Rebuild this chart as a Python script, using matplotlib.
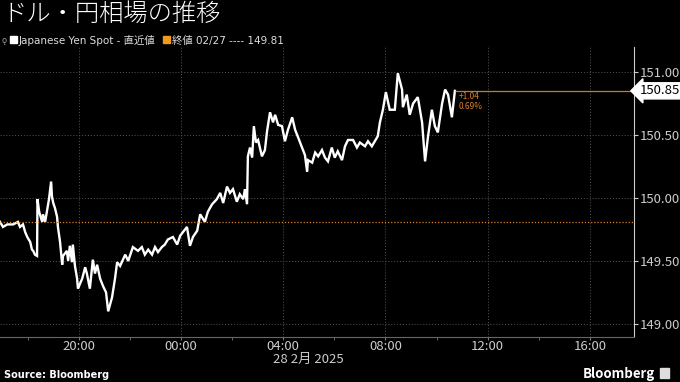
import pandas as pd
import matplotlib.pyplot as plt
import matplotlib.dates as mdates
from matplotlib.patches import Rectangle

plt.rcParams['font.family'] = ['Liberation Sans Narrow', 'Noto Sans CJK JP', 'DejaVu Sans']

# USD/JPY spot, 27 Feb 16:55 -> 28 Feb 10:43
times = [
    "02-27 16:55", "02-27 17:02", "02-27 17:12", "02-27 17:26", "02-27 17:37", "02-27 17:42",
    "02-27 17:49", "02-27 17:54", "02-27 17:59", "02-27 18:06", "02-27 18:10", "02-27 18:13",
    "02-27 18:17", "02-27 18:22", "02-27 18:23", "02-27 18:27", "02-27 18:34", "02-27 18:36",
    "02-27 18:41", "02-27 18:45", "02-27 18:50", "02-27 18:55", "02-27 18:57", "02-27 19:00",
    "02-27 19:04", "02-27 19:09", "02-27 19:11", "02-27 19:16", "02-27 19:21", "02-27 19:23",
    "02-27 19:32", "02-27 19:35", "02-27 19:39", "02-27 19:44", "02-27 19:46", "02-27 19:51",
    "02-27 19:56", "02-27 19:58", "02-27 20:08", "02-27 20:15", "02-27 20:19", "02-27 20:26",
    "02-27 20:33", "02-27 20:38", "02-27 20:43", "02-27 20:50", "02-27 20:57", "02-27 21:04",
    "02-27 21:09", "02-27 21:18", "02-27 21:25", "02-27 21:30", "02-27 21:37", "02-27 21:49",
    "02-27 21:56", "02-27 22:07", "02-27 22:19", "02-27 22:28", "02-27 22:35", "02-27 22:43",
    "02-27 22:52", "02-27 22:59", "02-27 23:06", "02-27 23:15", "02-27 23:22", "02-27 23:29",
    "02-27 23:41", "02-27 23:51", "02-27 23:58", "02-28 00:07", "02-28 00:14", "02-28 00:21",
    "02-28 00:28", "02-28 00:38", "02-28 00:45", "02-28 00:56", "02-28 01:03", "02-28 01:13",
    "02-28 01:24", "02-28 01:32", "02-28 01:39", "02-28 01:48", "02-28 01:55", "02-28 02:02",
    "02-28 02:11", "02-28 02:18", "02-28 02:26", "02-28 02:30", "02-28 02:35", "02-28 02:37",
    "02-28 02:42", "02-28 02:47", "02-28 02:51", "02-28 02:56", "02-28 03:01", "02-28 03:10",
    "02-28 03:17", "02-28 03:22", "02-28 03:29", "02-28 03:36", "02-28 03:41", "02-28 03:48",
    "02-28 03:57", "02-28 04:04", "02-28 04:11", "02-28 04:21", "02-28 04:28", "02-28 04:35",
    "02-28 04:44", "02-28 04:51", "02-28 04:56", "02-28 04:58", "02-28 05:08", "02-28 05:15",
    "02-28 05:22", "02-28 05:31", "02-28 05:38", "02-28 05:45", "02-28 05:54", "02-28 06:01",
    "02-28 06:08", "02-28 06:18", "02-28 06:25", "02-28 06:32", "02-28 06:44", "02-28 06:53",
    "02-28 07:00", "02-28 07:12", "02-28 07:19", "02-28 07:28", "02-28 07:35", "02-28 07:42",
    "02-28 07:47", "02-28 07:54", "02-28 08:01", "02-28 08:10", "02-28 08:22", "02-28 08:29",
    "02-28 08:39", "02-28 08:41", "02-28 08:50", "02-28 08:57", "02-28 09:05", "02-28 09:16",
    "02-28 09:26", "02-28 09:33", "02-28 09:40", "02-28 09:49", "02-28 09:56", "02-28 10:03",
    "02-28 10:13", "02-28 10:20", "02-28 10:27", "02-28 10:36", "02-28 10:43",
]
prices = [
    149.81, 149.77, 149.79, 149.79, 149.81, 149.77,
    149.79, 149.73, 149.69, 149.65, 149.59, 149.58,
    149.55, 149.54, 149.99, 149.89, 149.81, 149.87,
    149.81, 149.89, 149.99, 150.13, 150.01, 149.96,
    149.92, 149.85, 149.77, 149.65, 149.47, 149.54,
    149.58, 149.50, 149.62, 149.49, 149.63, 149.46,
    149.36, 149.28, 149.36, 149.45, 149.40, 149.28,
    149.51, 149.40, 149.47, 149.36, 149.30, 149.25,
    149.10, 149.21, 149.36, 149.49, 149.46, 149.55,
    149.50, 149.61, 149.58, 149.61, 149.55, 149.59,
    149.55, 149.61, 149.57, 149.61, 149.63, 149.67,
    149.69, 149.63, 149.70, 149.74, 149.77, 149.62,
    149.69, 149.74, 149.87, 149.81, 149.89, 149.95,
    149.99, 150.04, 149.96, 150.09, 150.04, 150.07,
    149.97, 150.03, 149.99, 150.07, 149.95, 150.33,
    150.40, 150.32, 150.57, 150.44, 150.46, 150.33,
    150.38, 150.53, 150.68, 150.60, 150.66, 150.58,
    150.57, 150.45, 150.54, 150.64, 150.54, 150.48,
    150.40, 150.34, 150.21, 150.30, 150.28, 150.36,
    150.33, 150.38, 150.32, 150.29, 150.40, 150.32,
    150.37, 150.30, 150.41, 150.46, 150.46, 150.40,
    150.44, 150.41, 150.45, 150.41, 150.45, 150.49,
    150.60, 150.70, 150.84, 150.70, 150.70, 150.99,
    150.86, 150.72, 150.82, 150.66, 150.75, 150.80,
    150.60, 150.29, 150.49, 150.70, 150.57, 150.52,
    150.75, 150.86, 150.82, 150.64, 150.85,
]
prev_close = 149.81
y_ticks = [149.00, 149.50, 150.00, 150.50, 151.00]

ts = pd.to_datetime(["2025-" + t for t in times])
last = prices[-1]
chg = last - prev_close

fig = plt.figure(figsize=(6.8, 3.82), dpi=100, facecolor="black")
ax = fig.add_axes([0.0, 0.118, 0.932, 0.759], facecolor="black")

ax.plot(ts, prices, color="white", lw=1.7, solid_joinstyle="miter")
ax.axhline(prev_close, color="#d9822b", lw=0.9, ls=(0, (1, 1.5)))
ax.hlines(last, ts[-1], pd.Timestamp("2025-02-28 17:43"), color="#c97a2a", lw=0.9)

ax.set_xlim(pd.Timestamp("2025-02-27 16:55"), pd.Timestamp("2025-02-28 17:43"))
ax.set_ylim(148.897, 151.198)

# axes styling
for s in ["left", "top"]:
    ax.spines[s].set_visible(False)
ax.spines["right"].set_color("#cccccc")
ax.spines["bottom"].set_color("#666666")
ax.yaxis.tick_right()
ax.set_yticks(y_ticks)
ax.set_yticklabels([f"{v:.2f}" for v in y_ticks])
ax.tick_params(axis="y", colors="#cccccc", labelsize=9.5, length=3, pad=1.5)
ax.xaxis.set_major_locator(mdates.HourLocator(byhour=range(0, 24, 4)))
ax.xaxis.set_minor_locator(mdates.HourLocator(byhour=range(0, 24, 2)))
ax.xaxis.set_major_formatter(mdates.DateFormatter("%H:%M"))
ax.tick_params(axis="x", which="both", colors="#777777", labelcolor="#cccccc",
               labelsize=9.5, length=2, pad=0.5)
ax.grid(True, which="major", color="#555555", ls=(0, (1, 2)), lw=0.7)

# end of line labels
ax.annotate(f"{last:.2f}", xy=(1.0, last), xycoords=("axes fraction", "data"),
            xytext=(4, 0), textcoords="offset points", va="center", ha="left",
            fontsize=9.5, color="black",
            bbox=dict(boxstyle="larrow,pad=0.12", fc="white", ec="white"),
            annotation_clip=False)
ax.annotate(f"+{chg:.2f}\n{chg / prev_close * 100:.2f}%", xy=(ts[-1], last),
            xytext=(3, -0.5), textcoords="offset points", va="top", ha="left",
            fontsize=6, color="#d9822b", linespacing=1.25)

# title, legend, footer
fig.text(0.003, 0.962, "ドル・円相場の推移", fontsize=17.5, color="white",
         family="Noto Sans CJK JP", weight="light", va="center")
fig.text(2 / 680, 0.893, "ǫ", fontsize=6, color="#999999", va="center",
         family="DejaVu Sans")
fig.add_artist(Rectangle((10 / 680, 1 - 43 / 382), 7 / 680, 7 / 382,
                         transform=fig.transFigure, color="white"))
fig.text(19 / 680, 0.893, "Japanese Yen Spot - 直近値", fontsize=7.5, color="#dddddd",
         va="center", family=["DejaVu Sans", "Noto Sans CJK JP"])
fig.add_artist(Rectangle((163 / 680, 1 - 43 / 382), 7 / 680, 7 / 382,
                         transform=fig.transFigure, color="#f29a1e"))
fig.text(172 / 680, 0.893, "終値 02/27 ---- 149.81", fontsize=7.5, color="#dddddd",
         va="center", family=["DejaVu Sans", "Noto Sans CJK JP"])

fig.text(308 / 680, 1 - 359 / 382, "28 2月 2025", fontsize=9.5, color="#cccccc",
         ha="center", va="center")
fig.text(0.006, 0.018, "Source: Bloomberg", fontsize=7, color="white", weight="bold",
         family="DejaVu Sans", va="center")
fig.text(0.963, 0.022, "Bloomberg", fontsize=9.5, color="white", weight="bold",
         ha="right", va="center")
fig.add_artist(Rectangle((660 / 680, 1 - 378 / 382), 9 / 680, 10 / 382,
                         transform=fig.transFigure, color="#dddddd"))

fig.savefig("out.png", dpi=100, facecolor="black")
